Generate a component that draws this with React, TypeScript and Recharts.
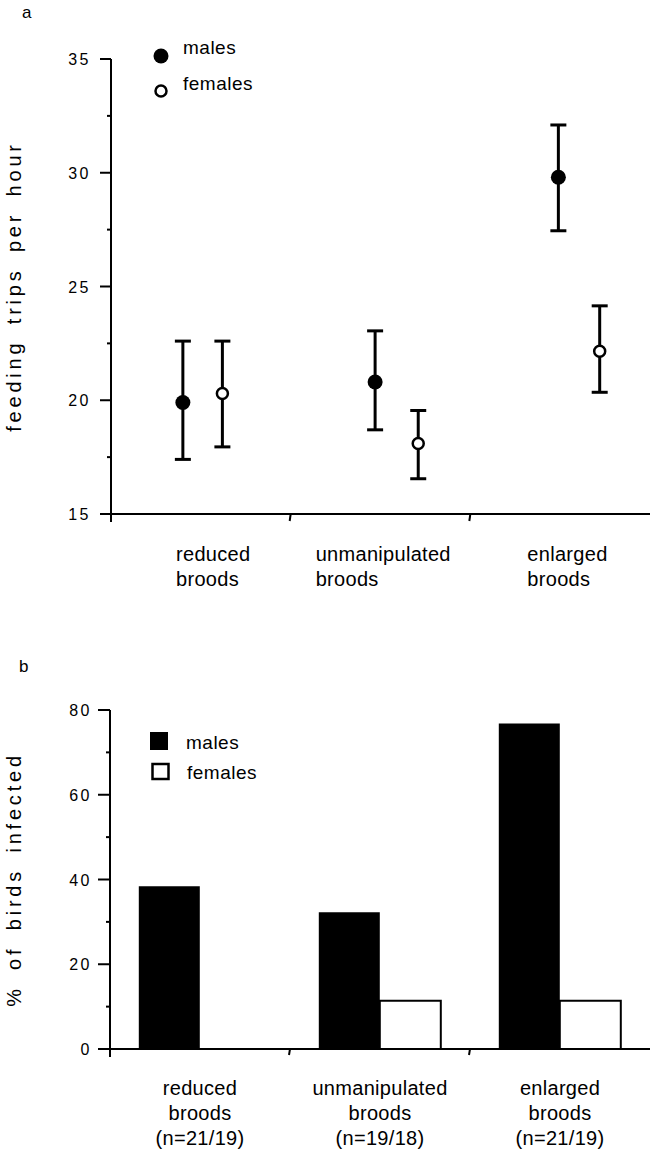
import { Bar, BarChart, ErrorBar, Legend, Scatter, ScatterChart, XAxis, YAxis } from "recharts";

const FONT = '"Liberation Sans", Arial, Helvetica, sans-serif';

// panel a: feeding trips per hour
const broodGroups = ["reduced broods", "unmanipulated broods", "enlarged broods"];
const maleX = [0.4, 1.47, 2.49];
const femaleX = [0.62, 1.71, 2.72];
const maleTrips = [19.9, 20.8, 29.8];
const maleTripsLow = [17.4, 18.7, 27.45];
const maleTripsHigh = [22.6, 23.05, 32.1];
const femaleTrips = [20.3, 18.1, 22.15];
const femaleTripsLow = [17.95, 16.55, 20.35];
const femaleTripsHigh = [22.6, 19.55, 24.15];
const tripTicks = [15, 17.5, 20, 22.5, 25, 27.5, 30, 32.5, 35];
const groupTicks = [0, 1, 2, 3];

// panel b: % of birds infected
const malesInfected = [38.4, 32.3, 76.8];
const femalesInfected = [0, 11.4, 11.4];
const sampleSizes = ["(n=21/19)", "(n=19/18)", "(n=21/19)"];
const infectedTicks = [0, 10, 20, 30, 40, 50, 60, 70, 80];

const maleData = maleX.map((x, i) => ({
  x,
  y: maleTrips[i],
  err: [maleTrips[i] - maleTripsLow[i], maleTripsHigh[i] - maleTrips[i]],
}));
const femaleData = femaleX.map((x, i) => ({
  x,
  y: femaleTrips[i],
  err: [femaleTrips[i] - femaleTripsLow[i], femaleTripsHigh[i] - femaleTrips[i]],
}));
const barData = broodGroups.map((g, i) => ({
  group: g,
  n: sampleSizes[i],
  males: malesInfected[i],
  females: femalesInfected[i],
}));

// left edge of the (left aligned) category labels in panel a, from each boundary tick
const A_LABEL_DX = [65, 25, 57];
const BAND = 180;

const textStyle = { fontFamily: FONT, fill: "#000" };
const titleStyle = {
  fontSize: 20,
  letterSpacing: 3.8,
  wordSpacing: 6,
  fill: "#000",
  fontFamily: FONT,
  textAnchor: "middle" as const,
};

function YTickA(props: any) {
  const { x, y, payload } = props;
  const major = payload.value % 5 === 0;
  return (
    <g>
      <line x1={x - (major ? 11 : 4)} x2={x} y1={y} y2={y} stroke="#000" strokeWidth={2} />
      {major && (
        <text x={x - 20} y={y + 6} textAnchor="end" fontSize={16} letterSpacing={2.5} style={textStyle}>
          {payload.value}
        </text>
      )}
    </g>
  );
}

function XTickA(props: any) {
  const { x, y, payload, index } = props;
  const v = payload.value;
  const lines = index < broodGroups.length ? broodGroups[index].split(" ") : [];
  return (
    <g>
      {v > 0 && v < 3 && <line x1={x} x2={x - 1} y1={y} y2={y + 7} stroke="#000" strokeWidth={2} />}
      {v === 0 && <line x1={x} x2={x} y1={y} y2={y + 8} stroke="#000" strokeWidth={2} />}
      {lines.map((l, k) => (
        <text key={k} x={x + A_LABEL_DX[index]} y={y + 47 + k * 24.5} fontSize={20} letterSpacing={0.3} style={textStyle}>
          {l}
        </text>
      ))}
    </g>
  );
}

function YTickB(props: any) {
  const { x, y, payload } = props;
  const major = payload.value % 20 === 0;
  return (
    <g>
      <line x1={x - (major ? 12 : 4)} x2={x} y1={y} y2={y} stroke="#000" strokeWidth={2} />
      {major && (
        <text x={x - 18} y={y + 6} textAnchor="end" fontSize={16} letterSpacing={2.5} style={textStyle}>
          {payload.value}
        </text>
      )}
    </g>
  );
}

function XTickB(props: any) {
  const { x, y, index } = props;
  const lines = [...broodGroups[index].split(" "), sampleSizes[index]];
  return (
    <g>
      {index < 2 && <line x1={x + BAND / 2} x2={x + BAND / 2 - 1} y1={y} y2={y + 6} stroke="#000" strokeWidth={2} />}
      {index === 0 && <line x1={x - BAND / 2} x2={x - BAND / 2} y1={y} y2={y + 8} stroke="#000" strokeWidth={2} />}
      {lines.map((l, k) => (
        <text key={k} x={x} y={y + 46 + k * 25} textAnchor="middle" fontSize={20} letterSpacing={0.3} style={textStyle}>
          {l}
        </text>
      ))}
    </g>
  );
}

function LegendA() {
  return (
    <svg width={130} height={70}>
      <circle cx={21} cy={21} r={7.5} fill="#000" />
      <text x={43} y={19} fontSize={19} letterSpacing={0.5} style={textStyle}>males</text>
      <circle cx={21} cy={56} r={5.5} fill="#fff" stroke="#000" strokeWidth={2.5} />
      <text x={43} y={55} fontSize={19} letterSpacing={0.5} style={textStyle}>females</text>
    </svg>
  );
}

function LegendB() {
  return (
    <svg width={130} height={70}>
      <rect x={10} y={12} width={18} height={18} fill="#000" />
      <text x={46} y={29} fontSize={19} letterSpacing={0.5} style={textStyle}>males</text>
      <rect x={12.5} y={44} width={16} height={15} fill="#fff" stroke="#000" strokeWidth={2.5} />
      <text x={47} y={59} fontSize={19} letterSpacing={0.5} style={textStyle}>females</text>
    </svg>
  );
}

const maleDot = (p: any) => <circle cx={p.cx} cy={p.cy} r={7.5} fill="#000" />;
const femaleDot = (p: any) => <circle cx={p.cx} cy={p.cy} r={5.5} fill="#fff" stroke="#000" strokeWidth={2.5} />;

export default function App() {
  return (
    <div style={{ position: "absolute", left: 0, top: 0, width: 650, height: 1151, background: "#fff", fontFamily: FONT }}>
      <div style={{ position: "absolute", left: 22, top: 3, fontSize: 17 }}>a</div>
      <div style={{ position: "absolute", left: 19, top: 657, fontSize: 17 }}>b</div>

      <div style={{ position: "absolute", left: 0, top: 0 }}>
        <ScatterChart width={650} height={600} margin={{ top: 59, right: 0, bottom: 26, left: 11 }}>
          <XAxis
            type="number"
            dataKey="x"
            domain={[0, 3]}
            ticks={groupTicks}
            height={60}
            tickLine={false}
            tickSize={0}
            tickMargin={0}
            axisLine={{ stroke: "#000", strokeWidth: 2 }}
            tick={<XTickA />}
            interval={0}
          />
          <YAxis
            type="number"
            dataKey="y"
            domain={[15, 35]}
            ticks={tripTicks}
            width={100}
            tickLine={false}
            tickSize={0}
            tickMargin={0}
            axisLine={{ stroke: "#000", strokeWidth: 2 }}
            tick={<YTickA />}
            interval={0}
            label={{ value: "feeding trips per hour", angle: -90, position: "insideLeft", offset: 3, style: titleStyle }}
          />
          <Legend
            layout="vertical"
            align="center"
            verticalAlign="middle"
            wrapperStyle={{ left: 140, top: 35, width: 130 }}
            content={() => <LegendA />}
          />
          <Scatter name="males" data={maleData} shape={maleDot} isAnimationActive={false}>
            <ErrorBar dataKey="err" direction="y" width={8} stroke="#000" strokeWidth={3} isAnimationActive={false} />
          </Scatter>
          <Scatter name="females" data={femaleData} shape={femaleDot} isAnimationActive={false}>
            <ErrorBar dataKey="err" direction="y" width={8} stroke="#000" strokeWidth={3} isAnimationActive={false} />
          </Scatter>
        </ScatterChart>
      </div>

      <div style={{ position: "absolute", left: 0, top: 600 }}>
        <BarChart
          width={650}
          height={551}
          data={barData}
          margin={{ top: 110, right: 0, bottom: 12, left: 10 }}
          barCategoryGap="16%"
          barGap={0}
        >
          <XAxis
            dataKey="group"
            height={90}
            tickLine={false}
            tickSize={0}
            tickMargin={0}
            axisLine={{ stroke: "#000", strokeWidth: 2 }}
            tick={<XTickB />}
            interval={0}
          />
          <YAxis
            type="number"
            domain={[0, 80]}
            ticks={infectedTicks}
            width={100}
            tickLine={false}
            tickSize={0}
            tickMargin={0}
            axisLine={{ stroke: "#000", strokeWidth: 2 }}
            tick={<YTickB />}
            interval={0}
            label={{ value: "% of birds infected", angle: -90, position: "insideLeft", offset: 4, style: titleStyle }}
          />
          <Legend
            layout="vertical"
            align="center"
            verticalAlign="middle"
            wrapperStyle={{ left: 140, top: 120, width: 130 }}
            content={() => <LegendB />}
          />
          <Bar dataKey="males" fill="#000" isAnimationActive={false} />
          <Bar dataKey="females" fill="#fff" stroke="#000" strokeWidth={2} isAnimationActive={false} />
        </BarChart>
      </div>
    </div>
  );
}
